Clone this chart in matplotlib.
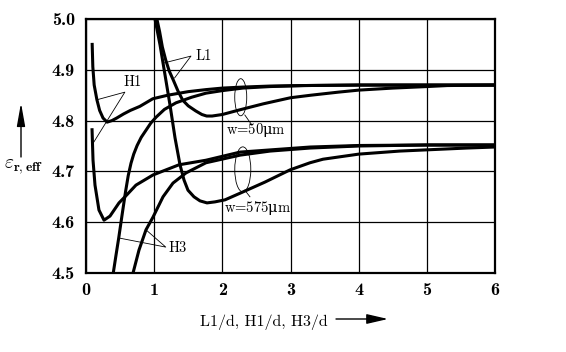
import matplotlib
matplotlib.use("Agg")
import matplotlib.pyplot as plt
from matplotlib.patches import Ellipse

# ---- data ----
h1_w50_x = [0.09, 0.095, 0.10, 0.12, 0.16, 0.20, 0.25, 0.31, 0.38, 0.45, 0.55, 0.65, 0.79, 0.98, 1.2, 1.5, 1.76, 2.0, 2.3, 2.7, 3.2, 4.0, 5.0, 6.0]
h1_w50_y = [4.953, 4.93, 4.906, 4.87, 4.841, 4.820, 4.805, 4.797, 4.800, 4.805, 4.813, 4.820, 4.828, 4.843, 4.850, 4.857, 4.861, 4.864, 4.866, 4.868, 4.869, 4.870, 4.870, 4.870]

h3_w50_x = [0.40, 0.44, 0.48, 0.53, 0.58, 0.62, 0.66, 0.70, 0.75, 0.81, 0.88, 0.95, 1.03, 1.15, 1.32, 1.55, 1.76, 2.0, 2.3, 2.7, 3.2, 4.0, 5.0, 6.0]
h3_w50_y = [4.50, 4.535, 4.569, 4.615, 4.66, 4.692, 4.716, 4.734, 4.751, 4.767, 4.781, 4.795, 4.807, 4.822, 4.835, 4.846, 4.854, 4.859, 4.864, 4.867, 4.869, 4.870, 4.870, 4.870]

l1_w50_x = [1.04, 1.08, 1.12, 1.17, 1.22, 1.28, 1.35, 1.42, 1.50, 1.61, 1.70, 1.77, 1.85, 2.0, 2.25, 2.6, 3.0, 3.3, 3.7, 4.0, 4.5, 5.0, 5.3, 6.0]
l1_w50_y = [5.00, 4.975, 4.945, 4.919, 4.898, 4.88, 4.858, 4.84, 4.829, 4.819, 4.812, 4.809, 4.809, 4.812, 4.821, 4.833, 4.845, 4.850, 4.856, 4.860, 4.864, 4.867, 4.869, 4.870]

h1_w575_x = [0.088, 0.103, 0.132, 0.19, 0.264, 0.352, 0.484, 0.60, 0.733, 0.983, 1.364, 1.76, 2.26, 3.29, 4.0, 5.0, 6.0]
h1_w575_y = [4.785, 4.722, 4.673, 4.624, 4.604, 4.612, 4.638, 4.654, 4.673, 4.693, 4.713, 4.722, 4.738, 4.748, 4.751, 4.752, 4.752]

h3_w575_x = [0.69, 0.777, 0.88, 0.983, 1.13, 1.276, 1.467, 1.76, 2.26, 2.70, 3.29, 4.0, 5.0, 6.0]
h3_w575_y = [4.50, 4.545, 4.585, 4.610, 4.650, 4.677, 4.697, 4.717, 4.732, 4.740, 4.746, 4.750, 4.752, 4.752]

l1_w575_x = [1.012, 1.086, 1.159, 1.232, 1.306, 1.379, 1.438, 1.496, 1.584, 1.672, 1.775, 1.892, 2.039, 2.259, 2.626, 2.993, 3.286, 3.477, 4.0, 4.6, 5.59, 6.0]
l1_w575_y = [5.000, 4.949, 4.890, 4.831, 4.766, 4.713, 4.683, 4.663, 4.650, 4.642, 4.638, 4.640, 4.644, 4.657, 4.679, 4.703, 4.717, 4.724, 4.734, 4.740, 4.746, 4.748]

x_ticks = [0, 1, 2, 3, 4, 5, 6]
y_ticks = [4.5, 4.6, 4.7, 4.8, 4.9, 5.0]
y_tick_labels = ["4.5", "4.6", "4.7", "4.8", "4.9", "5.0"]

TXT = ['cmr10', 'DejaVu Serif']
TICK = ['cmb10', 'DejaVu Serif']

fig = plt.figure(figsize=(5.66, 3.52), dpi=100)
W, H = 566, 352
ax = fig.add_axes([86 / W, 1 - 273 / H, (495 - 86) / W, (273 - 19) / H])
ax.set_xlim(0, 6)
ax.set_ylim(4.5, 5.0)

lw = 2.2
for xs, ys in [(h1_w50_x, h1_w50_y), (h3_w50_x, h3_w50_y), (l1_w50_x, l1_w50_y),
               (h1_w575_x, h1_w575_y), (h3_w575_x, h3_w575_y), (l1_w575_x, l1_w575_y)]:
    ax.plot(xs, ys, color='black', lw=lw, solid_capstyle='butt', solid_joinstyle='round',
            clip_on=True, zorder=3)

ax.set_xticks(x_ticks)
ax.set_yticks(y_ticks)
ax.set_yticklabels(y_tick_labels)
ax.grid(True, color='black', lw=0.9)
ax.tick_params(length=0, labelsize=13)
ax.tick_params(axis='x', pad=7)
ax.tick_params(axis='y', pad=8)
for lab in ax.get_xticklabels() + ax.get_yticklabels():
    lab.set_family(TICK)
for s in ax.spines.values():
    s.set_linewidth(1.6)

# ellipses
ax.add_patch(Ellipse((2.27, 4.846), 0.176, 0.073, fill=False, lw=0.6, color='black', zorder=4))
ax.add_patch(Ellipse((2.30, 4.704), 0.235, 0.0886, fill=False, lw=0.6, color='black', zorder=4))
ax.plot([2.33, 2.435], [4.811, 4.791], color='black', lw=0.6)
ax.plot([2.33, 2.405], [4.663, 4.650], color='black', lw=0.6)
ax.text(2.49, 4.781, r"w=50$\mathrm{\mu}$m", family=TXT, fontsize=10.5, ha='center', va='center',
        zorder=5, math_fontfamily='dejavuserif')
ax.text(2.51, 4.628, r"w=575$\mathrm{\mu}$m", family=TXT, fontsize=10.5, ha='center', va='center',
        zorder=5, math_fontfamily='dejavuserif')

# curve labels with leader lines
ax.text(0.69, 4.876, "H1", family=TXT, fontsize=10.5, ha='center', va='center')
ax.plot([0.16, 0.57, 0.088], [4.841, 4.856, 4.752], color='black', lw=0.6)
ax.text(1.73, 4.927, "L1", family=TXT, fontsize=10.5, ha='center', va='center')
ax.plot([1.13, 1.54, 1.30], [4.913, 4.927, 4.884], color='black', lw=0.6)
ax.text(1.34, 4.549, "H3", family=TXT, fontsize=10.5, ha='center', va='center')
ax.plot([0.48, 1.17, 0.88], [4.569, 4.551, 4.585], color='black', lw=0.6)

# axis labels
fig.text(264 / W, 1 - 322 / H, "L1/d, H1/d, H3/d", family=TXT, fontsize=11.5, ha='center', va='center')
fig.text(24 / W, 1 - 166 / H, r"$\varepsilon_{\mathbf{r,eff}}$", fontsize=14, ha='center', va='center',
         math_fontfamily='cm')
ax.annotate("", xy=(388, H - 319), xytext=(336, H - 319), xycoords='figure pixels',
            arrowprops=dict(arrowstyle='-|>,head_length=1.3,head_width=0.3', color='black', lw=1.0,
                            shrinkA=0, shrinkB=0))
ax.annotate("", xy=(21, H - 103), xytext=(21, H - 157), xycoords='figure pixels',
            arrowprops=dict(arrowstyle='-|>,head_length=1.4,head_width=0.25', color='black', lw=1.0,
                            shrinkA=0, shrinkB=0))

fig.savefig("out.png", dpi=100)
